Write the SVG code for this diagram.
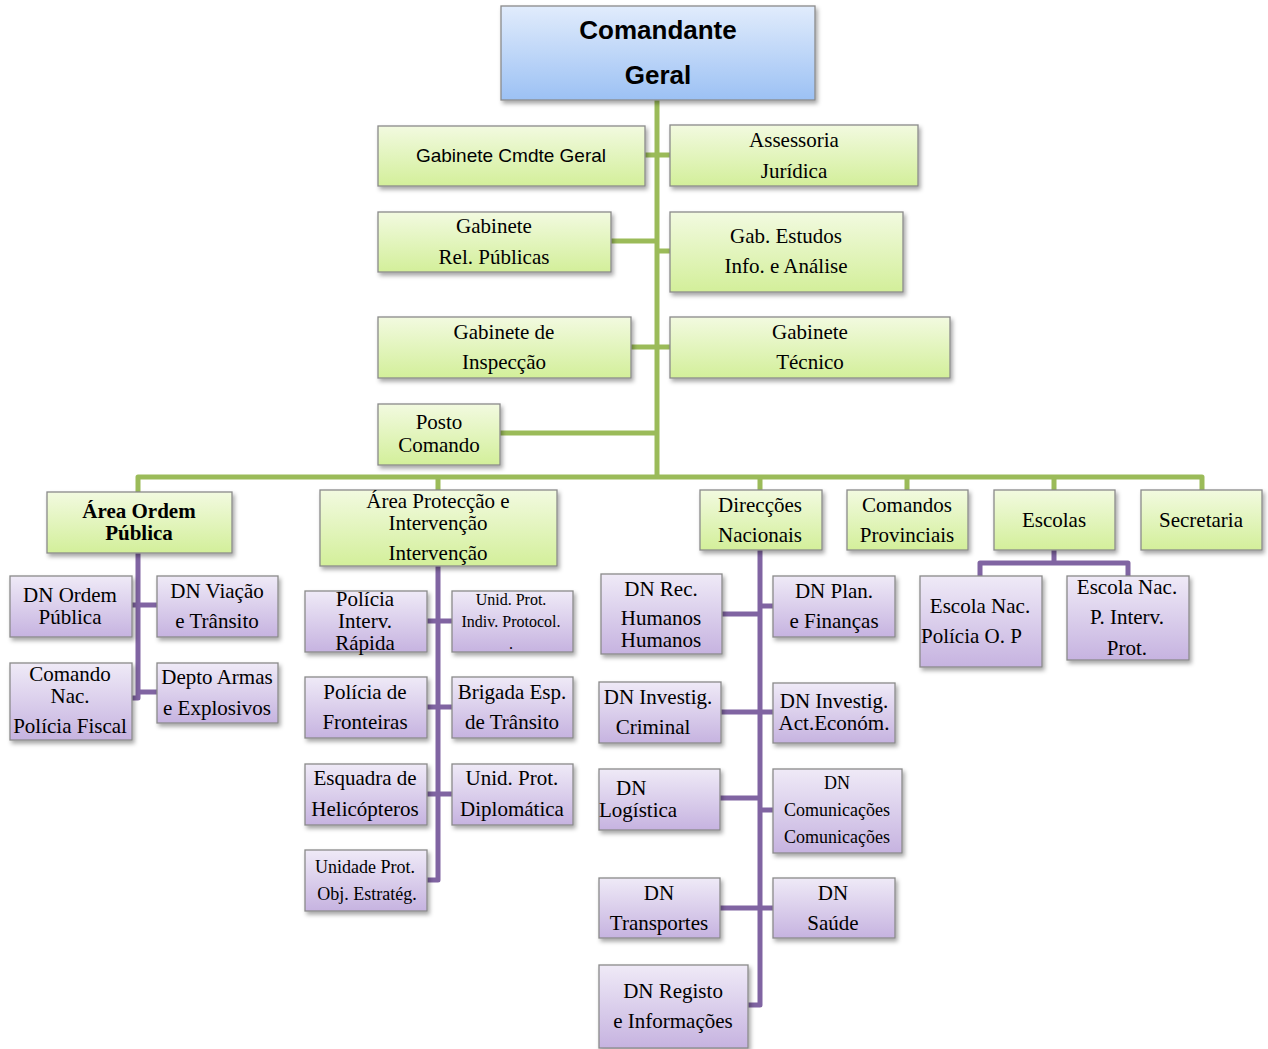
<svg xmlns="http://www.w3.org/2000/svg" width="1268" height="1049" viewBox="0 0 1268 1049">
<defs>
<linearGradient id="gBlue" x1="0" y1="0" x2="0" y2="1"><stop offset="0" stop-color="#e1ecfc"/><stop offset="1" stop-color="#9cc1f4"/></linearGradient>
<linearGradient id="gGreen" x1="0" y1="0" x2="0" y2="1"><stop offset="0" stop-color="#f2fae0"/><stop offset="1" stop-color="#d3ef9a"/></linearGradient>
<linearGradient id="gPurple" x1="0" y1="0" x2="0" y2="1"><stop offset="0" stop-color="#efeaf7"/><stop offset="1" stop-color="#c6b3e0"/></linearGradient>
<filter id="sh" x="-10%" y="-10%" width="130%" height="140%"><feDropShadow dx="2" dy="3" stdDeviation="2" flood-color="#000" flood-opacity="0.35"/></filter>
</defs>
<style>
.n{stroke:#8a8a8a;stroke-width:1.3;filter:url(#sh)}
.b{fill:url(#gBlue)}
.g{fill:url(#gGreen)}
.p{fill:url(#gPurple)}
text{font-family:"Liberation Serif","Times New Roman",serif;font-size:21px;fill:#000;text-anchor:middle}
.s{font-family:"Liberation Sans",Arial,sans-serif}
.bd{font-weight:bold}
.sm{font-size:16px}
.md{font-size:18px}
.st{text-anchor:start}
.cg{fill:none;stroke:#9bbb59;stroke-width:5;stroke-linejoin:round}
.cp{fill:none;stroke:#8064a2;stroke-width:5;stroke-linejoin:round}
</style>
<g id="connectors">
<path class="cg" d="M657 100V477M645 155H670M611 241H657M657 251H670M631 347H670M500 433H657M138 492V477H1202V490M438 477V490M760 477V490M907 477V490M1054 477V490"/>
<path class="cp" d="M138 553V698H132M132 605H157M138 692H157"/>
<path class="cp" d="M438 566V880H427M427 621H452M427 707H452M427 794H452"/>
<path class="cp" d="M760 550V1005H748M722 614H760M760 606H773M721 712H773M720 798H760M760 810H773M720 908H773"/>
<path class="cp" d="M1054 550V563M980 576V563H1128V576"/>
</g>
<g id="n-comandante"><rect class="n b" x="501" y="6" width="314" height="94"/><text class="s bd" x="658" y="39" style="font-size:26px">Comandante</text><text class="s bd" x="658" y="84" style="font-size:26px">Geral</text></g>
<g id="n-gabcmdte"><rect class="n g" x="378" y="126" width="267" height="60"/><text class="s" x="511" y="162" style="font-size:19px">Gabinete Cmdte Geral</text></g>
<g id="n-assessoria"><rect class="n g" x="670" y="125" width="248" height="61"/><text x="794" y="147">Assessoria</text><text x="794" y="178">Jurídica</text></g>
<g id="n-gabrel"><rect class="n g" x="378" y="212" width="233" height="60"/><text x="494" y="233">Gabinete</text><text x="494" y="264">Rel. Públicas</text></g>
<g id="n-gabestudos"><rect class="n g" x="670" y="212" width="233" height="80"/><text x="786" y="243">Gab. Estudos</text><text x="786" y="273">Info. e Análise</text></g>
<g id="n-gabinsp"><rect class="n g" x="378" y="317" width="253" height="61"/><text x="504" y="339">Gabinete de</text><text x="504" y="369">Inspecção</text></g>
<g id="n-gabtec"><rect class="n g" x="670" y="317" width="280" height="61"/><text x="810" y="339">Gabinete</text><text x="810" y="369">Técnico</text></g>
<g id="n-posto"><rect class="n g" x="378" y="404" width="122" height="61"/><text x="439" y="429">Posto</text><text x="439" y="452">Comando</text></g>
<g id="n-aop"><rect class="n g" x="47" y="492" width="185" height="61"/><text class="bd" x="139" y="518">Área Ordem</text><text class="bd" x="139" y="540">Pública</text></g>
<g id="n-api"><rect class="n g" x="320" y="490" width="237" height="76"/><text x="438" y="508">Área Protecção e</text><text x="438" y="530">Intervenção</text><text x="438" y="560">Intervenção</text></g>
<g id="n-dn"><rect class="n g" x="700" y="490" width="122" height="60"/><text x="760" y="512">Direcções</text><text x="760" y="542">Nacionais</text></g>
<g id="n-cp"><rect class="n g" x="847" y="490" width="121" height="60"/><text x="907" y="512">Comandos</text><text x="907" y="542">Provinciais</text></g>
<g id="n-escolas"><rect class="n g" x="994" y="490" width="121" height="60"/><text x="1054" y="527">Escolas</text></g>
<g id="n-secretaria"><rect class="n g" x="1141" y="490" width="121" height="60"/><text x="1201" y="527">Secretaria</text></g>
<g id="n-dnop"><rect class="n p" x="10" y="576" width="122" height="61"/><text x="70" y="602">DN Ordem</text><text x="70" y="624">Pública</text></g>
<g id="n-dnvt"><rect class="n p" x="157" y="576" width="121" height="61"/><text x="217" y="598">DN Viação</text><text x="217" y="628">e Trânsito</text></g>
<g id="n-cnpf"><rect class="n p" x="10" y="663" width="122" height="77"/><text x="70" y="681">Comando</text><text x="70" y="703">Nac.</text><text x="70" y="733">Polícia Fiscal</text></g>
<g id="n-depto"><rect class="n p" x="157" y="663" width="121" height="60"/><text x="217" y="684">Depto Armas</text><text x="217" y="715">e Explosivos</text></g>
<g id="n-pir"><rect class="n p" x="305" y="591" width="122" height="61"/><text x="365" y="606">Polícia</text><text x="365" y="628">Interv.</text><text x="365" y="650">Rápida</text></g>
<g id="n-upip"><rect class="n p" x="452" y="591" width="121" height="61"/><text class="sm" x="511" y="605">Unid. Prot.</text><text class="sm" x="511" y="627">Indiv. Protocol.</text><text class="sm" x="511" y="649">.</text></g>
<g id="n-pf"><rect class="n p" x="305" y="677" width="122" height="61"/><text x="365" y="699">Polícia de</text><text x="365" y="729">Fronteiras</text></g>
<g id="n-bet"><rect class="n p" x="452" y="677" width="121" height="61"/><text x="512" y="699">Brigada Esp.</text><text x="512" y="729">de Trânsito</text></g>
<g id="n-eh"><rect class="n p" x="305" y="764" width="122" height="61"/><text x="365" y="785">Esquadra de</text><text x="365" y="816">Helicópteros</text></g>
<g id="n-upd"><rect class="n p" x="452" y="764" width="121" height="61"/><text x="512" y="785">Unid. Prot.</text><text x="512" y="816">Diplomática</text></g>
<g id="n-upoe"><rect class="n p" x="305" y="850" width="122" height="61"/><text class="md" x="365" y="873">Unidade Prot.</text><text class="md" x="367" y="900">Obj. Estratég.</text></g>
<g id="n-dnrh"><rect class="n p" x="601" y="574" width="121" height="80"/><text x="661" y="596">DN Rec.</text><text x="661" y="625">Humanos</text><text x="661" y="647">Humanos</text></g>
<g id="n-dnpf"><rect class="n p" x="773" y="576" width="122" height="61"/><text x="834" y="598">DN Plan.</text><text x="834" y="628">e Finanças</text></g>
<g id="n-dnic"><rect class="n p" x="599" y="682" width="122" height="61"/><text x="658" y="704">DN Investig.</text><text x="653" y="734">Criminal</text></g>
<g id="n-dnia"><rect class="n p" x="773" y="683" width="122" height="60"/><text x="834" y="708">DN Investig.</text><text x="834" y="730">Act.Económ.</text></g>
<g id="n-dnl"><rect class="n p" x="599" y="769" width="121" height="61"/><text class="st" x="616" y="795">DN</text><text class="st" x="599" y="817">Logística</text></g>
<g id="n-dnc"><rect class="n p" x="773" y="769" width="129" height="84"/><text class="md" x="837" y="789">DN</text><text class="md" x="837" y="816">Comunicações</text><text class="md" x="837" y="843">Comunicações</text></g>
<g id="n-dnt"><rect class="n p" x="599" y="878" width="121" height="60"/><text x="659" y="900">DN</text><text x="659" y="930">Transportes</text></g>
<g id="n-dns"><rect class="n p" x="773" y="878" width="122" height="60"/><text x="833" y="900">DN</text><text x="833" y="930">Saúde</text></g>
<g id="n-dnri"><rect class="n p" x="599" y="965" width="149" height="83"/><text x="673" y="998">DN Registo</text><text x="673" y="1028">e Informações</text></g>
<g id="n-enpop"><rect class="n p" x="920" y="576" width="122" height="91"/><text x="980" y="613">Escola Nac.</text><text class="st" x="921" y="643">Polícia O. P</text></g>
<g id="n-enpip"><rect class="n p" x="1067" y="576" width="122" height="84"/><text x="1127" y="594">Escola Nac.</text><text x="1127" y="624">P. Interv.</text><text x="1127" y="655">Prot.</text></g>
</svg>
